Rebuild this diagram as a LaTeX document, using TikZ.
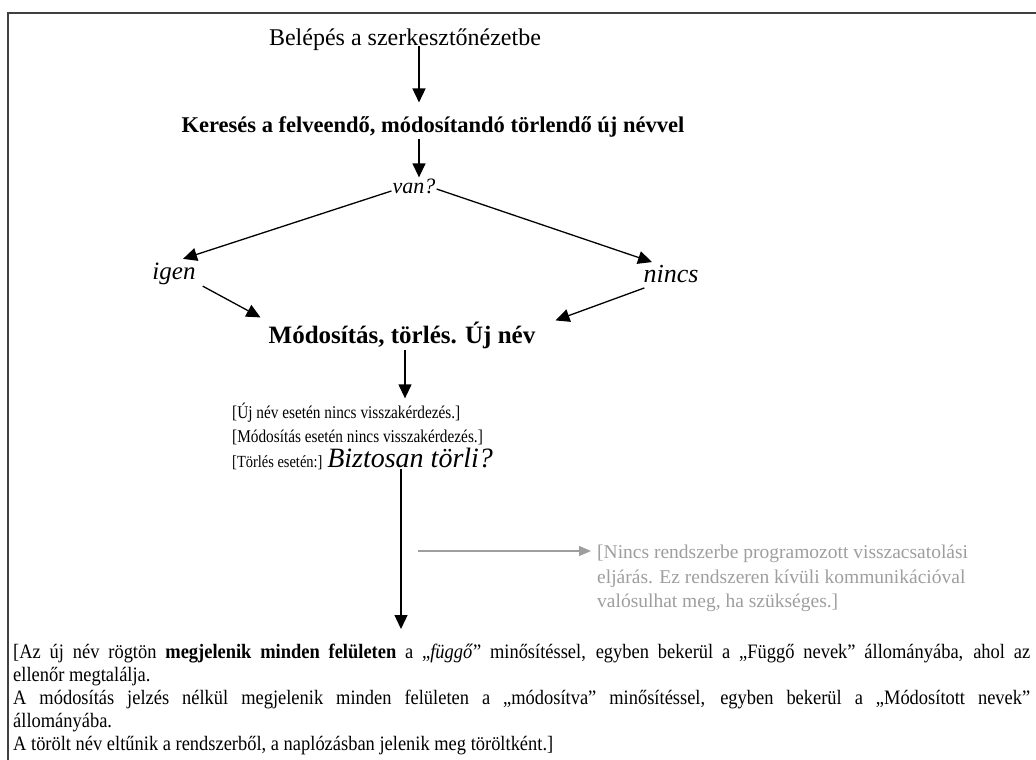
\documentclass[tikz,border=0pt]{standalone}
\usepackage{fontspec}
\setmainfont{Liberation Serif}
\newfontfamily\blockfont[FakeStretch=0.85]{Liberation Serif}
\newfontfamily\bodyfont[FakeStretch=0.9]{Liberation Serif}
\usetikzlibrary{arrows.meta,calc}
\begin{document}
\begin{tikzpicture}[x=1pt,y=-1pt,
  lbl/.style={inner sep=1pt},
  arr/.style={line width=1.3pt,-{Triangle[width=13pt,length=14pt]}},
  garr/.style={draw=black!38,line width=1.2pt,-{Triangle[width=10pt,length=12pt]}},
  frame/.style={draw=black!75,line width=1.3pt}]
\useasboundingbox (0,0) rectangle (1036,760);
\draw[frame] (8,760) -- (8,13) -- (1036,13);

\node[lbl,font=\fontsize{24}{28}\selectfont] (t1) at (405,40) {Belépés a szerkesztőnézetbe};
\node[lbl,font=\fontsize{22.5}{26}\selectfont\bfseries] (t2) at (433,127) {Keresés a felveendő, módosítandó törlendő új névvel};
\node[lbl,font=\fontsize{22}{25}\selectfont\itshape] (van) at (414,186) {van?};
\node[lbl,font=\fontsize{25}{29}\selectfont\itshape] (igen) at (174,274) {igen};
\node[lbl,font=\fontsize{26}{30}\selectfont\itshape] (nincs) at (671,274) {nincs};
\node[lbl,font=\fontsize{25}{29}\selectfont\bfseries] (mod) at (402,335) {Módosítás, törlés. Új név};

\node[anchor=base west,inner sep=0,font=\blockfont\fontsize{18}{22}\selectfont] (l1) at (232,418) {[Új név esetén nincs visszakérdezés.]};
\node[anchor=base west,inner sep=0,font=\blockfont\fontsize{18}{22}\selectfont] (l2) at (232,442) {[Módosítás esetén nincs visszakérdezés.]};
\node[anchor=base west,inner sep=0,font=\blockfont\fontsize{17}{22}\selectfont] (l3) at (232,467) {[Törlés esetén:] {\rmfamily\fontsize{28}{30}\selectfont\itshape Biztosan törli?}};

\node[anchor=north west,inner sep=0,align=left,text=black!38,font=\fontsize{19.5}{24.5}\selectfont] (g) at (597,545)
  {[Nincs rendszerbe programozott visszacsatolási\\eljárás. Ez rendszeren kívüli kommunikációval\\valósulhat meg, ha szükséges.]};

\node[anchor=north west,inner sep=0,text width=1017pt,align=justify,font=\bodyfont\fontsize{20.5}{23}\selectfont] (b) at (13,644)
  {[Az új név rögtön \textbf{megjelenik minden felületen} a „\textit{függő}” minősítéssel, egyben bekerül a „Függő nevek” állományába, ahol az\linebreak
   ellenőr megtalálja.\\
   A módosítás jelzés nélkül megjelenik minden felületen a „módosítva” minősítéssel, egyben bekerül a „Módosított nevek”\linebreak
   állományába.\\
   A törölt név eltűnik a rendszerből, a naplózásban jelenik meg töröltként.]};

\coordinate (gs) at (418,551);

\draw[arr] ([xshift=14pt,yshift=6pt]t1.south) -- ([xshift=-14pt,yshift=13pt]t2.north);
\draw[arr] ([xshift=-14pt]t2.south) -- ([xshift=5pt]van.north);
\draw[arr] ([yshift=-5pt]van.west) -- ([xshift=9pt,yshift=3pt]igen.north);
\draw[arr] ([yshift=-3pt]van.east) -- ([xshift=-19pt,yshift=2pt]nincs.north);
\draw[arr] ([xshift=6pt]igen.south east) -- ([xshift=-7pt,yshift=3pt]mod.north west);
\draw[arr] ([xshift=2pt,yshift=-4pt]nincs.south west) -- ([xshift=19pt]mod.north east);
\draw[arr] ([xshift=3pt]mod.south) -- ($(mod.south |- l1.north)+(3,-4)$);
\draw[arr] ($(mod.south |- l3.south)+(-1,0)$) -- ($(mod.south |- b.north)+(-1,-15)$);
\draw[garr] (gs) -- ($(g.north west |- gs)+(-6,0)$);
\end{tikzpicture}
\end{document}
